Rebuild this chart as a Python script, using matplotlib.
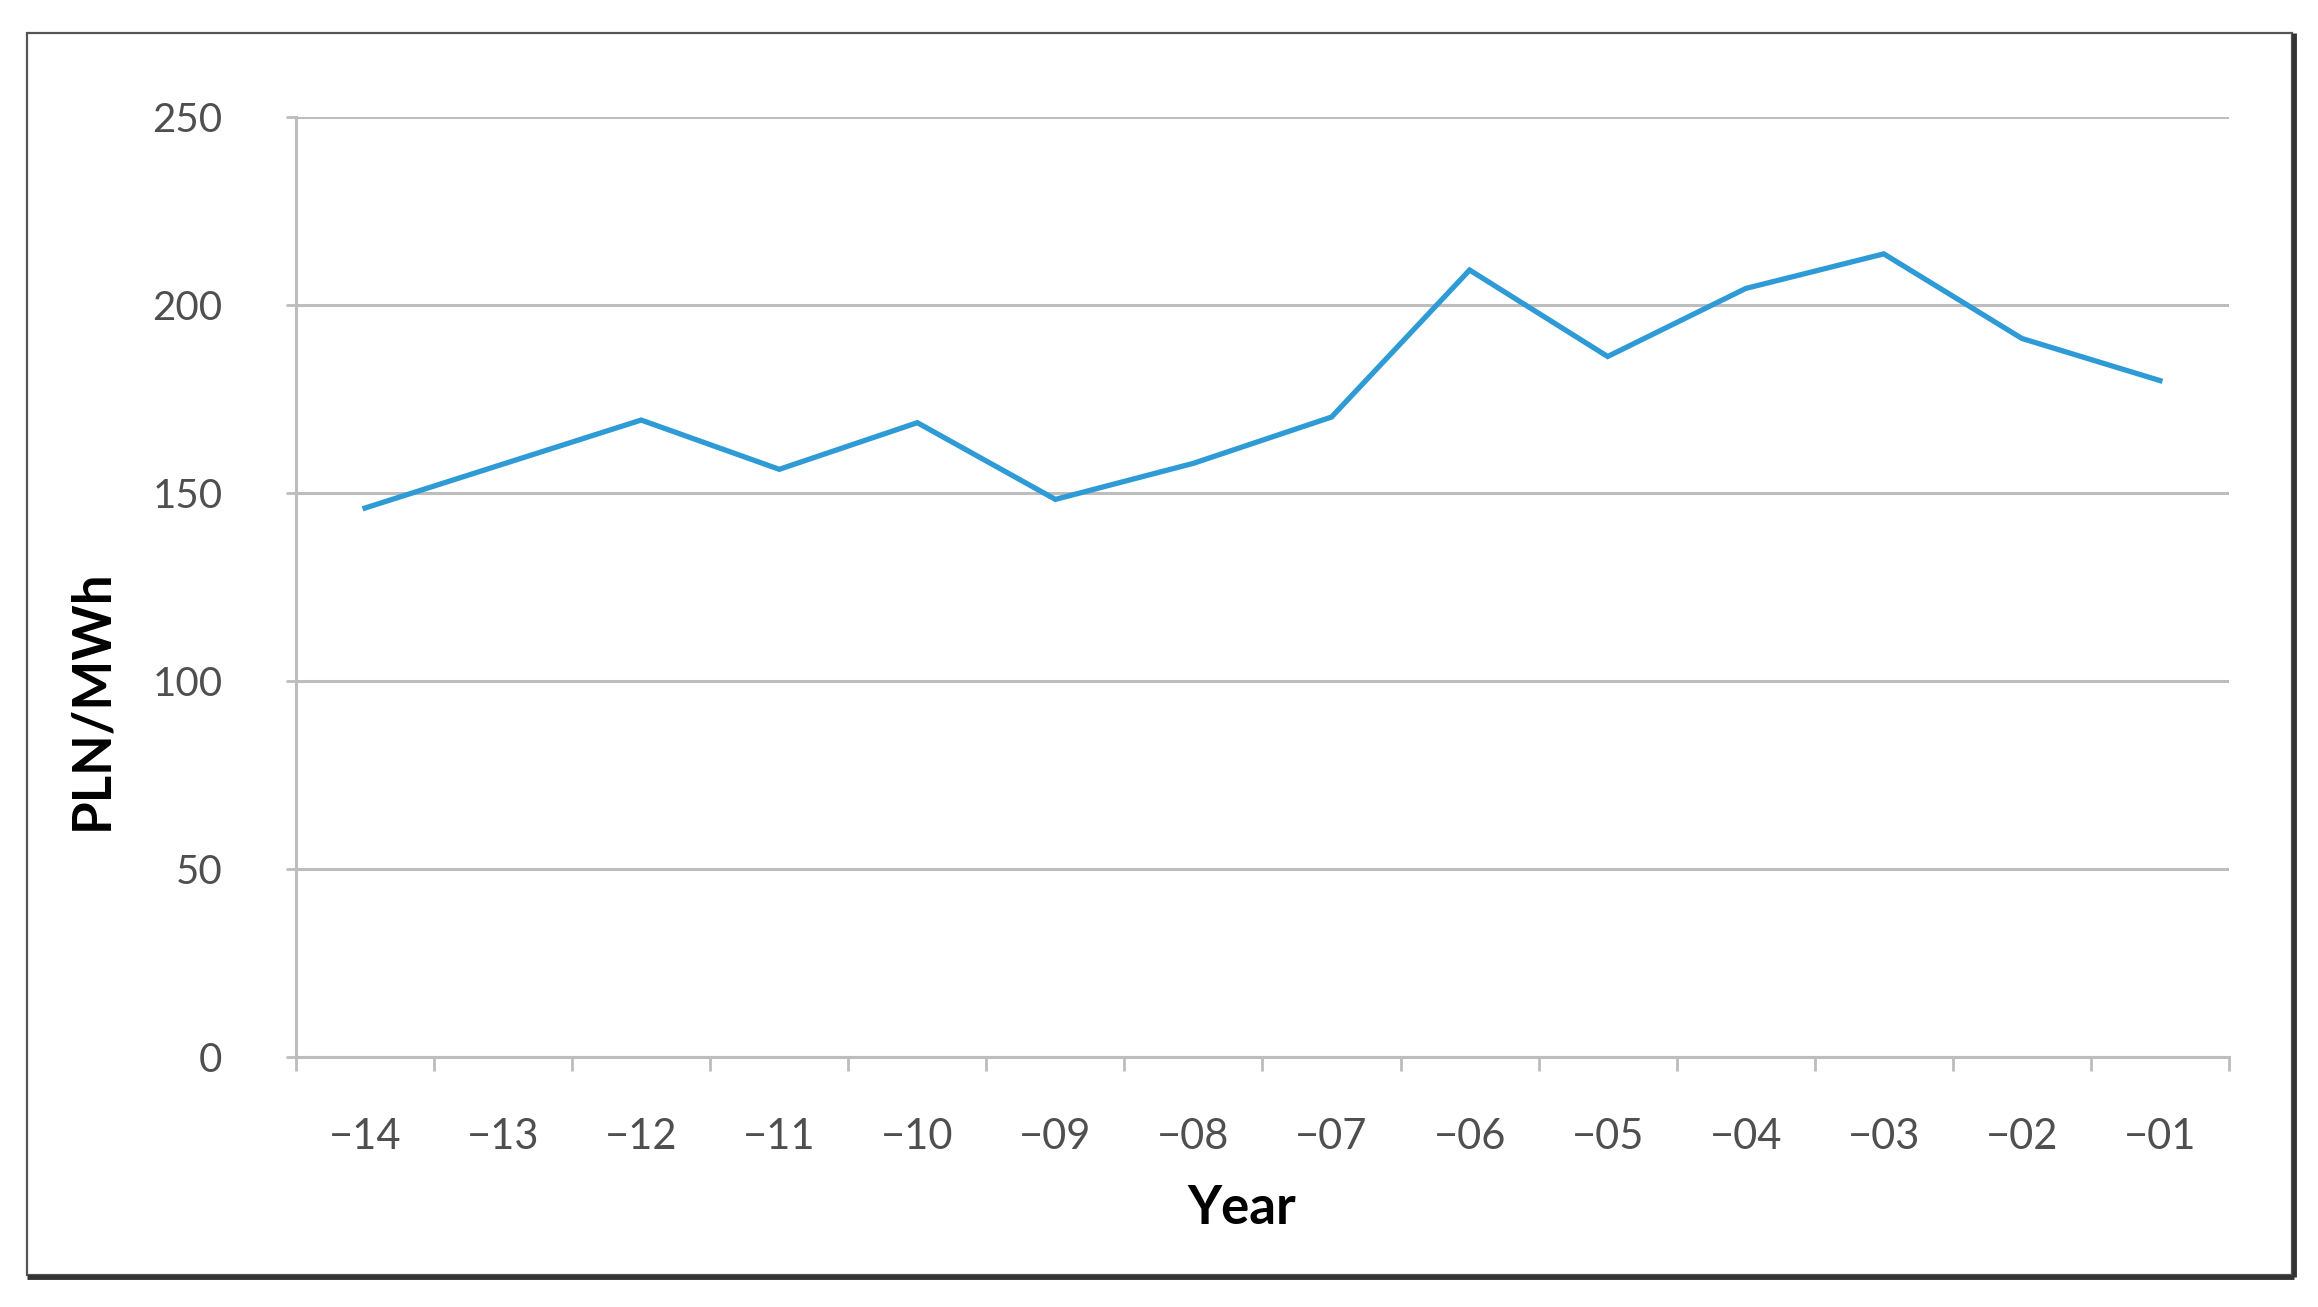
import matplotlib
matplotlib.use('Agg')
import matplotlib.pyplot as plt
from matplotlib.patches import Rectangle

# values
years = ['\u221214', '\u221213', '\u221212', '\u221211', '\u221210', '\u221209', '\u221208',
         '\u221207', '\u221206', '\u221205', '\u221204', '\u221203', '\u221202', '\u221201']
price = [146, 157.7, 169.4, 156.3, 168.7, 148.3, 157.9,
         170.2, 209.3, 186.3, 204.4, 213.6, 191.1, 179.9]
y_ticks = [0, 50, 100, 150, 200, 250]

plt.rcParams['font.family'] = ['Lato', 'DejaVu Sans']

W, H = 2318, 1307
fig = plt.figure(figsize=(W / 100, H / 100), dpi=100)

# outer frame
fig.patches.append(Rectangle((27 / W, 1 - 1275 / H), (2292 - 27) / W, (1275 - 33) / H,
                             transform=fig.transFigure, fill=False,
                             edgecolor='#555555', linewidth=1.6))
fig.patches.append(Rectangle((27 / W, 1 - 1277 / H), (2294 - 27) / W, 0.0,
                             transform=fig.transFigure, fill=False,
                             edgecolor='#333333', linewidth=3.5))
fig.patches.append(Rectangle((2294 / W, 1 - 1277 / H), 0.0, (1277 - 33) / H,
                             transform=fig.transFigure, fill=False,
                             edgecolor='#333333', linewidth=3.5))

ax = fig.add_axes([296 / W, 1 - 1057 / H, (2229 - 296) / W, (1057 - 117) / H])

grid_c = '#bdbdbd'
x = list(range(len(years)))
ax.plot(x, price, color='#2e9bd6', linewidth=3.8, solid_joinstyle='miter', zorder=3)

ax.set_xlim(-0.5, len(years) - 0.5)
ax.set_ylim(0, 250)
ax.set_yticks(y_ticks)
ax.set_yticklabels([str(v) for v in y_ticks])
ax.yaxis.grid(True, color=grid_c, linewidth=2.2)
ax.set_axisbelow(True)

# category boundaries as major ticks, labels on minor ticks at the points
ax.set_xticks([i - 0.5 for i in range(len(years) + 1)])
ax.set_xticklabels([])
ax.set_xticks(x, minor=True)
ax.set_xticklabels(years, minor=True)

ax.tick_params(axis='x', which='major', direction='out', length=10, width=2, color=grid_c)
ax.tick_params(axis='x', which='minor', length=0, pad=44, labelsize=30, labelcolor='#4f4f4f')
ax.tick_params(axis='y', direction='out', length=7, width=2, color=grid_c,
               pad=46, labelsize=29, labelcolor='#4f4f4f')

for s in ['top', 'right']:
    ax.spines[s].set_visible(False)
for s in ['left', 'bottom']:
    ax.spines[s].set_color(grid_c)
    ax.spines[s].set_linewidth(2.2)

fig.text(92 / W, 1 - 700 / H, 'PLN/MWh', rotation=90, ha='center', va='center',
         fontsize=38, fontweight='bold', color='black')
fig.text(1242 / W, 1 - 1209 / H, 'Year', ha='center', va='center',
         fontsize=38, fontweight='bold', color='black')

fig.savefig('out.png', dpi=100, facecolor='white')
